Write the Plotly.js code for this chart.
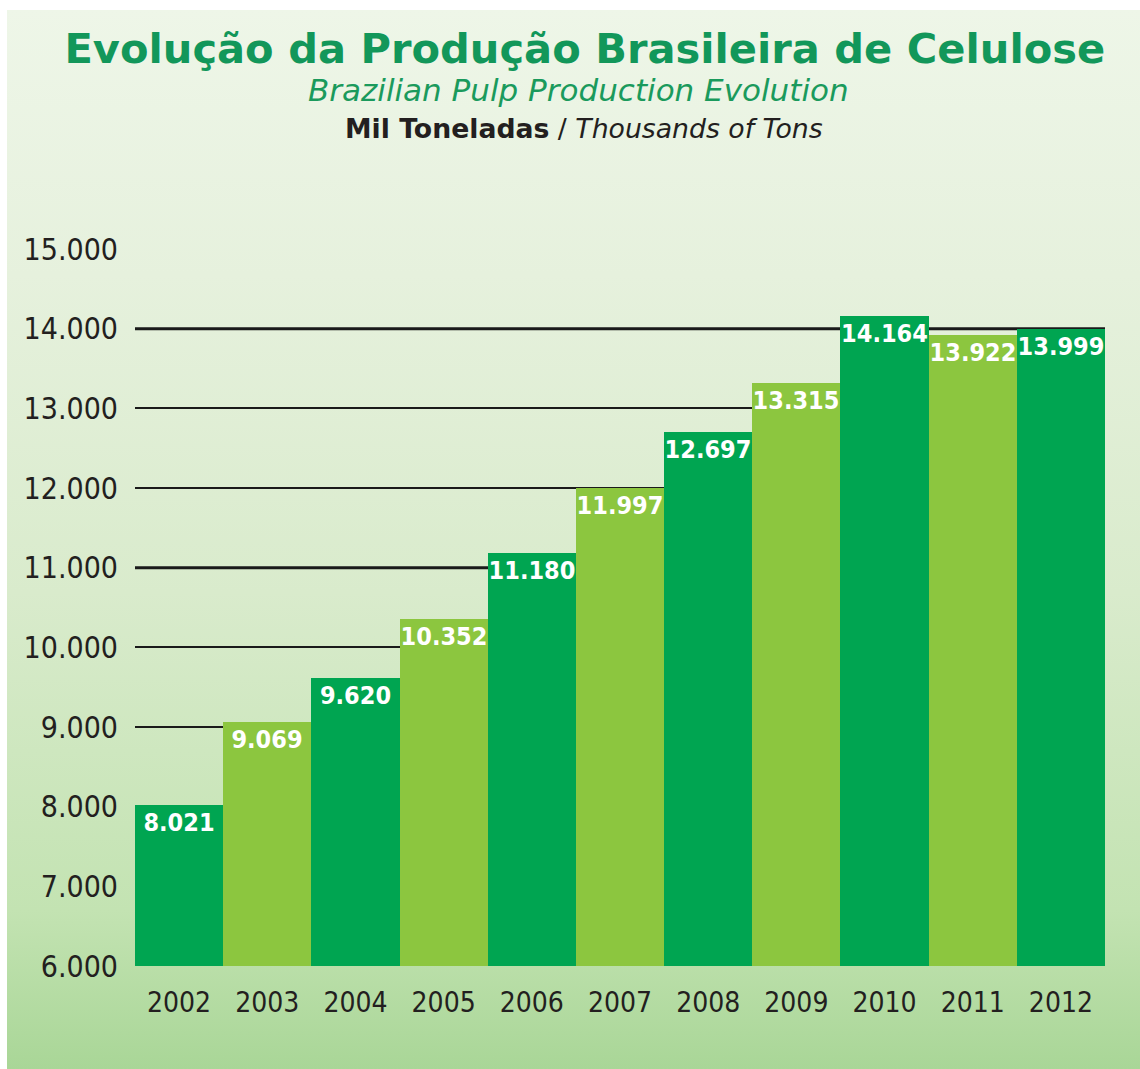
<!DOCTYPE html>
<html>
<head>
<meta charset="utf-8">
<script src="https://cdn.plot.ly/plotly-3.0.1.min.js"></script>
<style>
  html, body { margin: 0; padding: 0; background: #ffffff; }
  #bg { position: absolute; left: 7px; top: 10px; width: 1133px; height: 1059px;
        background: linear-gradient(to bottom, #eef6e8 0%, #e6f1dd 25%, #d9ebcc 55%, #c3e3b2 85%, #a9d697 100%); }
  #chart { position: absolute; left: 0; top: 0; width: 1140px; height: 1069px; }
</style>
</head>
<body>
<div id="bg"></div>
<div id="chart"></div>
<script>
const years = ["2002","2003","2004","2005","2006","2007","2008","2009","2010","2011","2012"];
const production = [8021, 9069, 9620, 10352, 11180, 11997, 12697, 13315, 14164, 13922, 13999];
const valueLabels = ["8.021","9.069","9.620","10.352","11.180","11.997","12.697","13.315","14.164","13.922","13.999"];
const yTicks = [6000, 7000, 8000, 9000, 10000, 11000, 12000, 13000, 14000, 15000];
const yTickLabels = ["6.000","7.000","8.000","9.000","10.000","11.000","12.000","13.000","14.000","15.000"];
const thickLines = [11000, 14000];

const darkGreen = "#00a551";
const lightGreen = "#8cc63f";
const barColors = years.map((y, i) => i % 2 === 0 ? darkGreen : lightGreen);

const trace = {
  type: "bar",
  x: years,
  y: production,
  text: valueLabels,
  textposition: "inside",
  insidetextanchor: "end",
  constraintext: "none",
  textangle: 0,
  textfont: { family: "DejaVu Sans Condensed, DejaVu Sans", size: 25, color: "#ffffff", weight: "bold" },
  marker: { color: barColors, line: { width: 0 } },
  hoverinfo: "x+y"
};

const shapes = thickLines.map(v => ({
  type: "line", xref: "paper", yref: "y", x0: 0, x1: 1, y0: v, y1: v,
  line: { color: "#1a1a1a", width: 3 }, layer: "below"
}));

const layout = {
  width: 1140, height: 1069,
  margin: { l: 135, r: 35, t: 249, b: 103 },
  paper_bgcolor: "rgba(0,0,0,0)",
  plot_bgcolor: "rgba(0,0,0,0)",
  bargap: 0,
  showlegend: false,
  shapes: shapes,
  title: {
    text: "Evolução da Produção Brasileira de Celulose",
    font: { family: "DejaVu Sans", size: 41.6, color: "#12975a", weight: "bold" },
    x: 0.513, xanchor: "center", y: 0.955, yanchor: "middle"
  },
  annotations: [
    { text: "<i>Brazilian Pulp Production Evolution</i>", xref: "paper", yref: "paper",
      x: 0.457, y: 1, xanchor: "center", yanchor: "middle", showarrow: false,
      yshift: 249 - 90,
      font: { family: "DejaVu Sans", size: 31, color: "#1a9a5c" } },
    { text: "<b>Mil Toneladas</b> / <i>Thousands of Tons</i>", xref: "paper", yref: "paper",
      x: 0.463, y: 1, xanchor: "center", yanchor: "middle", showarrow: false,
      yshift: 249 - 128,
      font: { family: "DejaVu Sans", size: 26.7, color: "#231f20" } }
  ],
  xaxis: {
    type: "category",
    tickfont: { family: "DejaVu Sans Condensed, DejaVu Sans", size: 28, color: "#231f20" },
    showgrid: false, showline: false, zeroline: false, ticks: "",
    ticklabelstandoff: 17
  },
  yaxis: {
    range: [6000, 15000],
    tickvals: yTicks,
    ticktext: yTickLabels,
    tickfont: { family: "DejaVu Sans Condensed, DejaVu Sans", size: 30, color: "#231f20" },
    showgrid: true, gridcolor: "#1a1a1a", gridwidth: 1.5,
    zeroline: false, showline: false, ticks: "",
    ticklabelstandoff: 16
  }
};

Plotly.newPlot("chart", [trace], layout, { displayModeBar: false, responsive: false });
</script>
</body>
</html>
